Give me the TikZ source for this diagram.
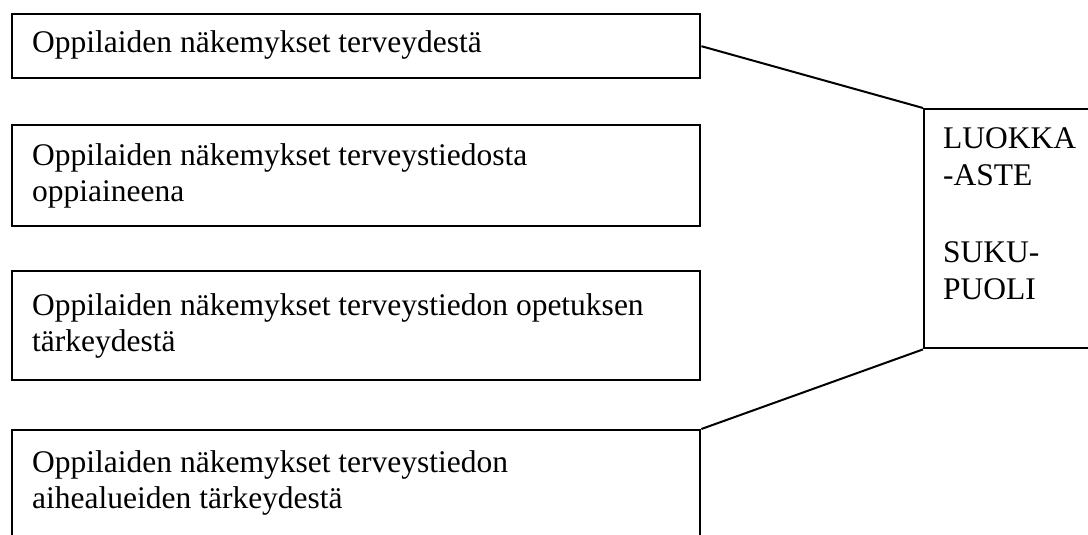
\documentclass[tikz,border=0pt]{standalone}
\usepackage{fontspec}
\setmainfont{Liberation Serif}
\usetikzlibrary{calc}
\newcommand{\twolines}[2]{\vtop{\hbox{#1}\hbox{#2}}}
\begin{document}
\begin{tikzpicture}[x=1pt,y=-1pt,
  box/.style={draw, line width=2.4pt, inner sep=0pt, anchor=north west},
  txt/.style={anchor=base west, inner sep=0pt,
    font=\fontsize{31.5}{36}\selectfont},
  rtxt/.style={anchor=base west, inner sep=0pt,
    font=\fontsize{31.5}{37.5}\selectfont},
  link/.style={line width=2pt}]
\useasboundingbox (0,0) rectangle (1088,535);
\node[box, minimum width=688pt, minimum height=64pt] (b1) at (11,13) {};
\node[box, minimum width=688pt, minimum height=101pt] (b2) at (11,124) {};
\node[box, minimum width=688pt, minimum height=109pt] (b3) at (11,270) {};
\node[box, minimum width=688pt, minimum height=140pt] (b4) at (11,429) {};
\node[box, minimum width=200pt, minimum height=239pt] (rb) at (923,108) {};
\node[txt] (t1) at (32,53) {Oppilaiden näkemykset terveydestä};
\node[txt] (t2) at (32,165) {\twolines{Oppilaiden näkemykset terveystiedosta}{oppiaineena}};
\node[txt] (t3) at (32,315) {\twolines{Oppilaiden näkemykset terveystiedon opetuksen}{tärkeydestä}};
\node[txt] (t4) at (32,472) {\twolines{Oppilaiden näkemykset terveystiedon}{aihealueiden tärkeydestä}};
\node[rtxt] (r1) at (943,148) {\twolines{LUOKKA}{-ASTE}};
\node[rtxt] (r2) at (943,262) {\twolines{SUKU-}{PUOLI}};
\draw[link] (b1.east) -- (rb.north west);
\draw[link] ($(b2.north east)+(0,48)$) -- ($(b2.north east)+(0,48)$ -| rb.west);
\draw[link] ($(b3.north east)+(0,12)$) -- ($(b3.north east)+(0,12)$ -| rb.west);
\draw[link] (b4.north east) -- (rb.south west);
\end{tikzpicture}
\end{document}
